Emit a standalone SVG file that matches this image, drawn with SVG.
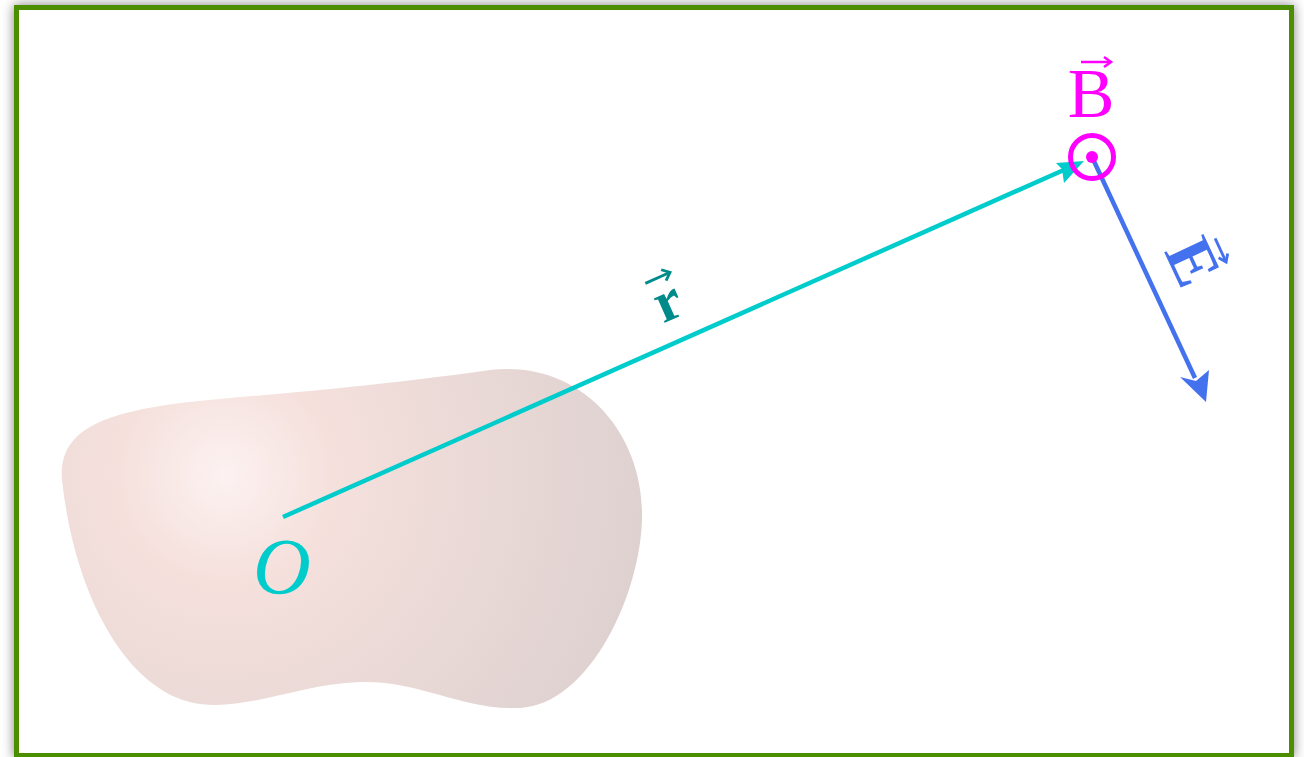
<svg xmlns="http://www.w3.org/2000/svg" width="1304" height="757" viewBox="0 0 1304 757">
<defs>
<filter id="sh" x="-5%" y="-5%" width="110%" height="110%">
<feDropShadow dx="0" dy="0" stdDeviation="6" flood-color="#000" flood-opacity="0.5"/>
</filter>
<radialGradient id="blob" cx="225" cy="475" r="430" gradientUnits="userSpaceOnUse">
<stop offset="0" stop-color="#fcf2f1"/>
<stop offset="0.25" stop-color="#f5e0dc"/>
<stop offset="1" stop-color="#ddd1d0"/>
</radialGradient>
<style>
.lbl{font-family:"Liberation Serif","DejaVu Serif",serif}
</style>
</defs>
<rect x="16.5" y="7.5" width="1275" height="748" fill="#fff" stroke="#4b8e06" stroke-width="5" filter="url(#sh)"/>
<g id="body">
<path d="M62,480 C58,425 110,408 230,398 C330,390 420,380 490,370 C580,360 640,430 642,510 C644,590 590,705 520,708 C460,710 420,680 360,682 C300,684 250,710 200,704 C130,695 75,600 62,480 Z" fill="url(#blob)"/>
</g>
<g id="connectors">
<g id="r-vector">
<line x1="283" y1="517" x2="1066" y2="169" stroke="#00cccc" stroke-width="4.5"/>
<path d="M1084,161 L1056,163 L1062,169 L1064,183 Z" fill="#00cccc"/>
</g>
<g id="E-vector">
<line x1="1092" y1="157" x2="1195" y2="378" stroke="#4472ef" stroke-width="4.5"/>
<path d="M1206,402 L1180,377 L1196,381 L1209,370 Z" fill="#4472ef"/>
</g>
</g>
<g id="O-point">
<text class="lbl" x="282" y="594" font-size="80" font-style="italic" fill="#00cccc" text-anchor="middle">O</text>
</g>
<g id="r-label" transform="translate(667,300) rotate(-24)">
<text class="lbl" x="0" y="20" font-size="58" font-weight="bold" fill="#008b8b" text-anchor="middle">r</text>
<path d="M-13,-24 L13,-24" stroke="#008b8b" stroke-width="2.8"/>
<path d="M7,-30 L14,-24 L7,-18" fill="none" stroke="#008b8b" stroke-width="2.8"/>
</g>
<g id="B-field">
<text class="lbl" x="1091" y="117" font-size="70" fill="#ff00ff" text-anchor="middle">B</text>
<path d="M1081,62 L1110,62" stroke="#ff00ff" stroke-width="2.5"/>
<path d="M1104,57 L1111,62 L1104,67" fill="none" stroke="#ff00ff" stroke-width="2.5"/>
<circle cx="1092" cy="157" r="21.5" fill="none" stroke="#ff00ff" stroke-width="5"/>
<circle cx="1092" cy="157" r="6" fill="#ff00ff"/>
</g>
<g id="E-label" transform="translate(1193,262) rotate(65)">
<text class="lbl" x="0" y="22" font-size="66" fill="#4472ef" text-anchor="middle" font-weight="bold">E</text>
<path d="M-12,-30 L13,-30" stroke="#4472ef" stroke-width="2.8"/>
<path d="M7,-35 L14,-30 L7,-25" fill="none" stroke="#4472ef" stroke-width="2.8"/>
</g>
</svg>
